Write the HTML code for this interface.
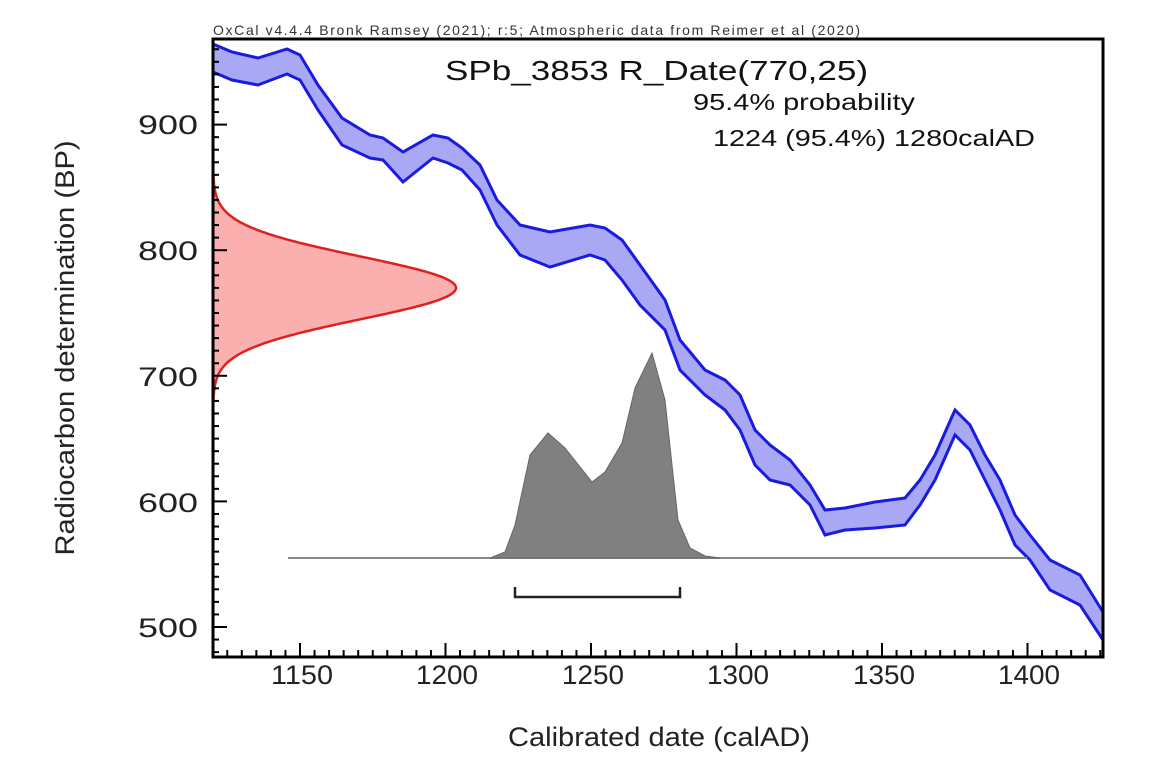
<!DOCTYPE html>
<html><head><meta charset="utf-8"><style>
html,body{margin:0;padding:0;background:#fff;}
svg{display:block;font-family:"Liberation Sans",sans-serif;}
</style></head><body>
<svg id="s" width="1160" height="773" viewBox="0 0 1160 773" xmlns="http://www.w3.org/2000/svg">
<rect width="1160" height="773" fill="#fff"/>
<text x="213" y="35" font-size="14" fill="#333" textLength="647">OxCal v4.4.4 Bronk Ramsey (2021); r:5; Atmospheric data from Reimer et al (2020)</text>
<polygon fill="#a8a8f4" stroke="none" points="213,44 232,52 258,58 287,49 300,55 318,85 342,118 370,135 383,138 403,152 433,135 448,138 462,148 480,165 497,200 520,225 550,232 590,225 605,228 622,240 640,265 665,300 680,340 705,370 725,380 740,395 755,430 770,445 790,460 810,485 825,510 845,508 875,502 905,498 920,480 935,455 955,410 970,425 985,455 1000,480 1015,515 1030,535 1050,560 1080,575 1103,612 1103,640 1080,605 1050,590 1030,560 1015,545 1000,510 985,480 970,450 955,435 935,480 920,505 905,525 875,528 845,530 825,535 810,505 790,485 770,480 755,465 740,430 725,410 705,395 680,370 665,330 640,305 622,280 605,260 590,255 550,267 520,255 497,225 480,190 462,170 448,163 433,158 403,182 383,160 370,158 342,145 318,110 300,80 287,74 258,85 232,80 213,72"/>
<polyline fill="none" stroke="#1a1ae0" stroke-width="3" points="213,44 232,52 258,58 287,49 300,55 318,85 342,118 370,135 383,138 403,152 433,135 448,138 462,148 480,165 497,200 520,225 550,232 590,225 605,228 622,240 640,265 665,300 680,340 705,370 725,380 740,395 755,430 770,445 790,460 810,485 825,510 845,508 875,502 905,498 920,480 935,455 955,410 970,425 985,455 1000,480 1015,515 1030,535 1050,560 1080,575 1103,612"/>
<polyline fill="none" stroke="#1a1ae0" stroke-width="3" points="213,72 232,80 258,85 287,74 300,80 318,110 342,145 370,158 383,160 403,182 433,158 448,163 462,170 480,190 497,225 520,255 550,267 590,255 605,260 622,280 640,305 665,330 680,370 705,395 725,410 740,430 755,465 770,480 790,485 810,505 825,535 845,530 875,528 905,525 920,505 935,480 955,435 970,450 985,480 1000,510 1015,545 1030,560 1050,590 1080,605 1103,640"/>
<line x1="288" y1="558" x2="1027" y2="558" stroke="#888" stroke-width="2"/>
<polygon fill="#808080" stroke="#666" stroke-width="1" points="490,558 505,552 515,525 530,455 548,433 565,448 592,482 605,472 622,443 635,388 652,353 665,400 672,465 678,520 690,548 705,556 720,558"/>
<polyline fill="none" stroke="#222" stroke-width="2.5" points="515,587 515,597 680,597 680,587"/>
<path id="red" fill="#fbb0b0" stroke="#e02020" stroke-width="2.5"/>
<g id="axes" stroke="#000" fill="none"></g>
<text x="445" y="80" font-size="28" fill="#111" textLength="423" lengthAdjust="spacingAndGlyphs">SPb_3853 R_Date(770,25)</text>
<text x="693" y="110" font-size="23" fill="#111" textLength="222" lengthAdjust="spacingAndGlyphs">95.4% probability</text>
<text x="713" y="146" font-size="23" fill="#111" textLength="322" lengthAdjust="spacingAndGlyphs">1224 (95.4%) 1280calAD</text>
<g font-size="27" fill="#222" text-anchor="end">
<text x="198" y="134" textLength="60" lengthAdjust="spacingAndGlyphs">900</text><text x="198" y="260" textLength="60" lengthAdjust="spacingAndGlyphs">800</text><text x="198" y="386" textLength="60" lengthAdjust="spacingAndGlyphs">700</text><text x="198" y="512" textLength="60" lengthAdjust="spacingAndGlyphs">600</text><text x="198" y="637" textLength="60" lengthAdjust="spacingAndGlyphs">500</text>
</g>
<g font-size="27" fill="#222" text-anchor="middle">
<text x="302" y="684" textLength="62" lengthAdjust="spacingAndGlyphs">1150</text><text x="447" y="684" textLength="62" lengthAdjust="spacingAndGlyphs">1200</text><text x="593" y="684" textLength="62" lengthAdjust="spacingAndGlyphs">1250</text><text x="738" y="684" textLength="62" lengthAdjust="spacingAndGlyphs">1300</text><text x="884" y="684" textLength="62" lengthAdjust="spacingAndGlyphs">1350</text><text x="1029" y="684" textLength="62" lengthAdjust="spacingAndGlyphs">1400</text>
</g>
<text x="659" y="746" font-size="27" fill="#222" text-anchor="middle" textLength="302" lengthAdjust="spacingAndGlyphs">Calibrated date (calAD)</text>
<text transform="translate(74,348) rotate(-90)" font-size="27" fill="#222" text-anchor="middle" textLength="415" lengthAdjust="spacingAndGlyphs">Radiocarbon determination (BP)</text>
</svg>
<script>
(function(){
function yv(v){return 627-(v-500)*1.256;}
function xv(t){return 212.7+(t-1120)*2.91;}
var d="M213,"+yv(860);
for(var v=860;v>=680;v-=1){var g=Math.exp(-0.5*Math.pow((v-770)/25,2));var x=213+243*g; d+=" L"+x.toFixed(1)+","+yv(v).toFixed(1);}
d+=" Z";
document.getElementById("red").setAttribute("d",d);
var ax=document.getElementById("axes"),h="";
h+='<rect x="213" y="39" width="890" height="618" stroke-width="3"/>';
for(var t=1120;t<=1426;t+=5){var X=xv(t);var L=(t%50==0)?14:7;h+='<line x1="'+X+'" y1="657" x2="'+X+'" y2="'+(657-L)+'" stroke-width="2"/>';}
for(var v=480;v<=960;v+=10){var Y=yv(v);var L=(v%100==0)?14:6;h+='<line x1="213" y1="'+Y+'" x2="'+(213+L)+'" y2="'+Y+'" stroke-width="2"/>';}
ax.innerHTML=h;
})();
</script>
</body></html>
